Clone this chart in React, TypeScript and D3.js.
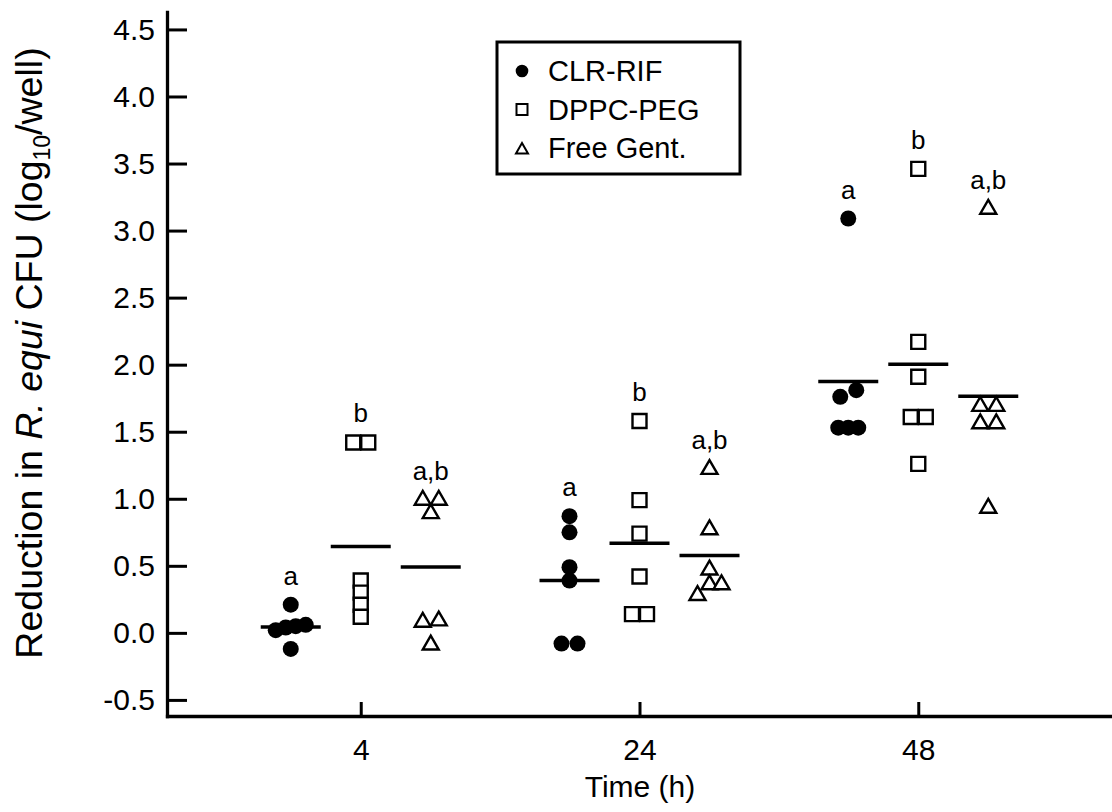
import React, { useEffect, useRef } from 'react';
import * as d3 from 'd3';

// categories
const times = ['4', '24', '48'];
const seriesNames = ['CLR-RIF', 'DPPC-PEG', 'Free Gent.'];

// individual wells, one array per time point
const clrRif = [
  [0.21, 0.06, 0.05, 0.04, 0.02, -0.12],
  [0.87, 0.75, 0.49, 0.39, -0.08, -0.08],
  [3.09, 1.81, 1.76, 1.53, 1.53, 1.53],
];
const dppcPeg = [
  [1.42, 1.42, 0.39, 0.30, 0.21, 0.12],
  [1.58, 0.99, 0.74, 0.42, 0.14, 0.14],
  [3.46, 2.17, 1.91, 1.61, 1.61, 1.26],
];
const freeGent = [
  [0.99, 0.99, 0.89, 0.09, 0.08, -0.09],
  [1.22, 0.77, 0.47, 0.36, 0.36, 0.28],
  [3.16, 1.69, 1.69, 1.56, 1.56, 0.93],
];

// significance letters per series
const sigLetters = ['a', 'b', 'a,b'];

const yTicks = [-0.5, 0, 0.5, 1.0, 1.5, 2.0, 2.5, 3.0, 3.5, 4.0, 4.5];

const W = 1112;
const H = 812;
const FONT = '"Liberation Sans", Arial, Helvetica, sans-serif';

const x = d3.scalePoint<string>().domain(times).range([167, 1112]).padding(0.695);
const offset = d3.scalePoint<string>().domain(seriesNames).range([-70, 70]);
const y = d3.scaleLinear().domain([-0.62, 4.63]).range([716, 12]);

const allSeries = [clrRif, dppcPeg, freeGent];

const symbolTypes = [d3.symbolCircle, d3.symbolSquare, d3.symbolTriangle];
const plotSizes = [Math.PI * 64, 14 * 14, (Math.sqrt(3) / 4) * 16 * 16];
const legendSizes = [Math.PI * 40, 11 * 11, (Math.sqrt(3) / 4) * 12 * 12];
const pairGap = [16, 15, 16];
const rowGap = [10, 11, 12];

// spread nearly equal values side by side, like a column scatter
function dodge(values: number[], s: number) {
  const sorted = values.slice().sort((a, b) => b - a);
  const rows: number[][] = [];
  sorted.forEach(v => {
    const row = rows[rows.length - 1];
    if (row && row[0] - v < 0.085) row.push(v);
    else rows.push([v]);
  });
  const out: { v: number; dx: number }[] = [];
  rows.forEach(row => {
    row.sort((a, b) => a - b);
    const gap = row.length <= 2 ? pairGap[s] : rowGap[s];
    row.forEach((v, j) => out.push({ v, dx: (j - (row.length - 1) / 2) * gap }));
  });
  return out;
}

export default function App() {
  const xAxisRef = useRef<SVGGElement>(null);
  const yAxisRef = useRef<SVGGElement>(null);

  useEffect(() => {
    const gx = d3.select(xAxisRef.current);
    gx.call(
      d3.axisBottom(x).tickSizeInner(-14).tickSizeOuter(0).tickPadding(23) as any
    );
    gx.attr('font-size', 30).attr('font-family', FONT);
    gx.select('.domain').attr('stroke-width', 3.3).attr('stroke-linecap', 'square');
    gx.selectAll('.tick line').attr('stroke-width', 3);

    const gy = d3.select(yAxisRef.current);
    gy.call(
      d3.axisLeft(y)
        .tickValues(yTicks)
        .tickFormat(d => (+d).toFixed(1))
        .tickSizeInner(-20)
        .tickSizeOuter(0)
        .tickPadding(12) as any
    );
    gy.attr('font-size', 30).attr('font-family', FONT);
    gy.select('.domain').attr('stroke-width', 3.3).attr('stroke-linecap', 'square');
    gy.selectAll('.tick line').attr('stroke-width', 3);
  }, []);

  return (
    <svg
      width={W}
      height={H}
      style={{ position: 'absolute', left: 0, top: 0, background: '#fff' }}
      fontFamily={FONT}
    >
      <rect width={W} height={H} fill='#fff' />

      {/* axes */}
      <g ref={xAxisRef} transform={`translate(0,716)`} />
      <g ref={yAxisRef} transform={`translate(167,0)`} />

      {/* axis titles */}
      <text x={640} y={797} fontSize={30} textAnchor='middle'>Time (h)</text>
      <text transform='translate(42,353) rotate(-90)' fontSize={37.5} textAnchor='middle'>
        Reduction in <tspan fontStyle='italic'>R. equi</tspan> CFU (log
        <tspan fontSize={23} dy={8}>10</tspan>
        <tspan dy={-8}>/well)</tspan>
      </text>

      {/* points, means and letters */}
      {allSeries.map((series, s) =>
        series.map((vals, t) => {
          const cx = (x(times[t]) as number) + (offset(seriesNames[s]) as number);
          const pts = dodge(vals, s);
          const sym = d3.symbol().type(symbolTypes[s]).size(plotSizes[s])();
          const mean = d3.mean(vals) as number;
          const top = d3.max(vals) as number;
          return (
            <g key={`${s}-${t}`}>
              {pts.map((p, i) => (
                <path
                  key={i}
                  d={sym as string}
                  transform={`translate(${cx + p.dx},${y(p.v)})`}
                  fill={s === 0 ? '#000' : '#fff'}
                  stroke='#000'
                  strokeWidth={s === 0 ? 0 : 2.4}
                />
              ))}
              <line
                x1={cx - 30}
                x2={cx + 30}
                y1={y(mean)}
                y2={y(mean)}
                stroke='#000'
                strokeWidth={3.5}
              />
              <text x={cx} y={y(top) - 20} fontSize={26} textAnchor='middle'>
                {sigLetters[s]}
              </text>
            </g>
          );
        })
      )}

      {/* legend */}
      <g>
        <rect x={497} y={42} width={243} height={132} fill='#fff' stroke='#000' strokeWidth={3} />
        {seriesNames.map((name, i) => (
          <g key={name} transform={`translate(0,${i * 38.5})`}>
            <path
              d={d3.symbol().type(symbolTypes[i]).size(legendSizes[i])() as string}
              transform={`translate(522,${i === 2 ? 73 : 71})`}
              fill={i === 0 ? '#000' : '#fff'}
              stroke='#000'
              strokeWidth={i === 0 ? 0 : 2}
            />
            <text x={548} y={81} fontSize={29}>{name}</text>
          </g>
        ))}
      </g>
    </svg>
  );
}
